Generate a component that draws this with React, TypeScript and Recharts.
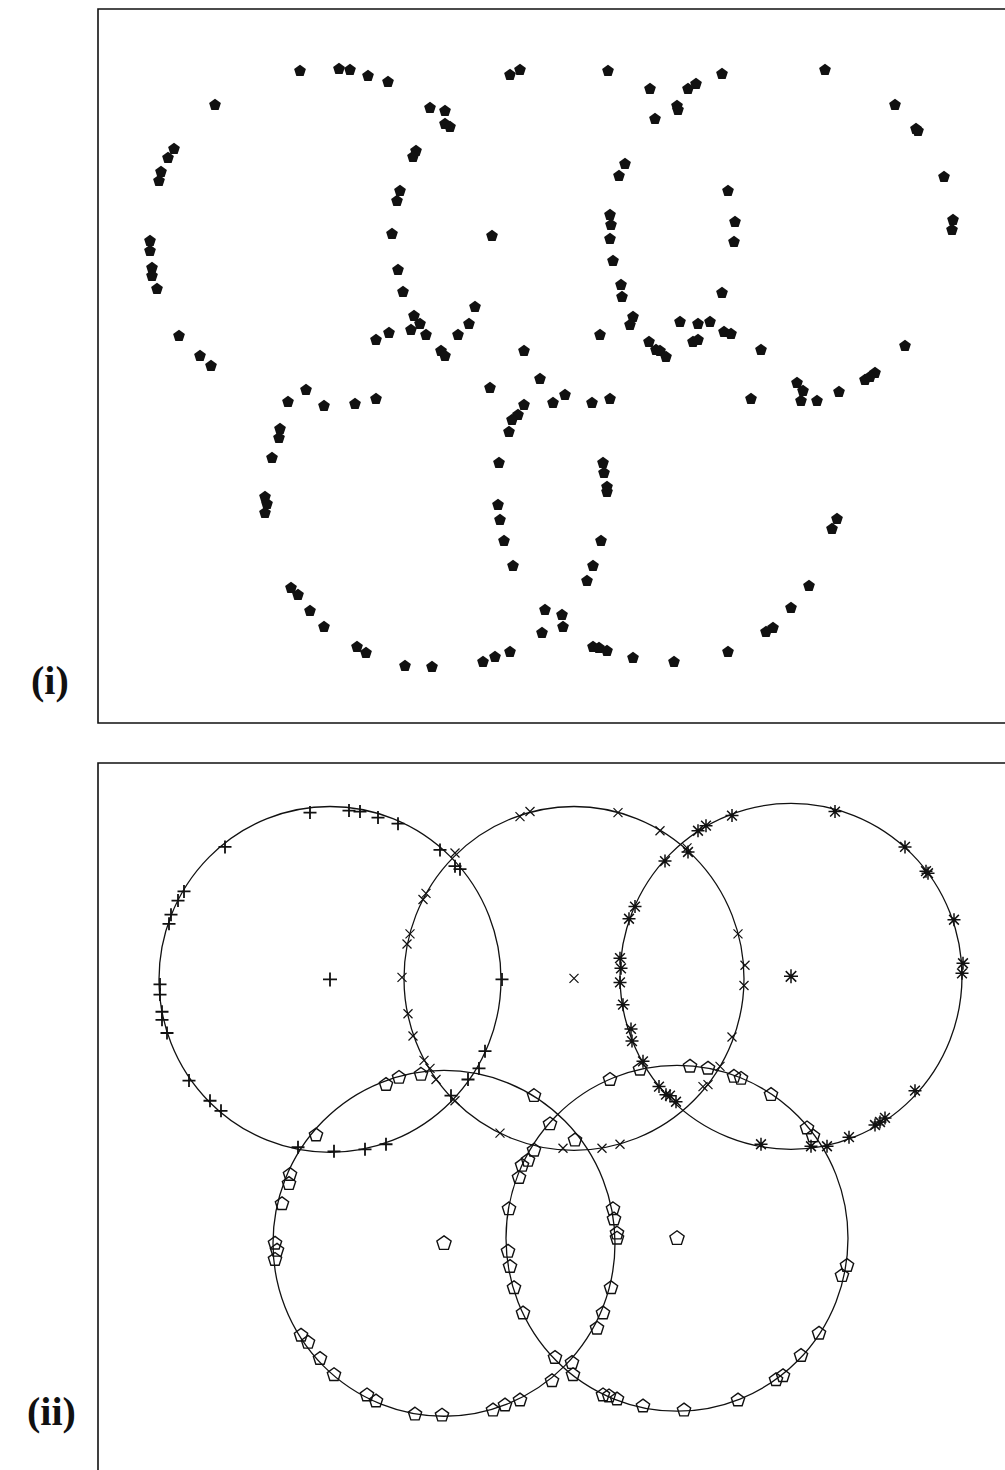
import { ScatterChart, Scatter, XAxis, YAxis, ReferenceArea } from 'recharts';

// Sampled points, grouped by the ring they belong to (x, y in plot units)
const ringA = [
  [213, 659], [252, 661], [263, 660], [281, 654], [301, 648], [128, 625], [343, 622],
  [358, 606], [363, 603], [87, 581], [81, 572], [74, 558], [72, 549], [405, 494],
  [63, 489], [63, 479], [65, 462], [65, 454], [70, 441], [388, 423], [382, 406],
  [371, 395], [354, 379], [92, 394], [113, 374], [124, 364], [201, 328], [237, 324],
  [268, 326], [289, 331],
];
const ringB = [
  [423, 655], [433, 660], [358, 619], [329, 579], [326, 573], [313, 539], [310, 529],
  [305, 496], [311, 460], [316, 438], [327, 414], [333, 406], [339, 395], [358, 374],
  [521, 659], [563, 641], [590, 624], [641, 539], [648, 508], [647, 488], [635, 437],
  [623, 408], [606, 388], [611, 390], [403, 342], [466, 327], [505, 327], [523, 331],
];
const ringC = [
  [601, 641], [609, 646], [635, 656], [591, 620], [568, 611], [738, 660], [808, 625],
  [829, 601], [831, 599], [857, 553], [538, 566], [532, 554], [523, 515], [524, 505],
  [523, 491], [526, 469], [534, 445], [535, 433], [546, 413], [562, 388], [569, 380],
  [573, 379], [579, 373], [818, 384], [866, 510], [865, 500], [664, 331], [714, 329],
  [730, 329], [752, 338], [778, 350], [788, 357], [783, 353],
];
const ringD = [
  [324, 400], [302, 397], [289, 390], [437, 379], [219, 340], [193, 301], [192, 292],
  [185, 272], [178, 233], [180, 226], [178, 217], [204, 142], [211, 135], [223, 119],
  [237, 103], [270, 83], [279, 77], [318, 64], [345, 63], [396, 68], [408, 73],
  [423, 78], [455, 97], [478, 335], [516, 267], [517, 257], [520, 243], [520, 238],
  [514, 189], [506, 164], [500, 149], [475, 115],
];
const ringE = [
  [543, 405], [513, 395], [593, 408], [611, 406], [637, 398], [644, 396], [674, 380],
  [453, 351], [437, 325], [431, 315], [425, 310], [422, 298], [412, 267], [411, 225],
  [413, 210], [417, 189], [426, 164], [458, 120], [710, 347], [716, 339], [750, 211],
  [745, 201], [476, 103], [506, 83], [512, 82], [520, 79], [546, 72], [587, 68],
  [641, 78], [686, 102], [679, 98], [704, 122], [722, 144],
];

// Fitted rings: centres and radii (plot units), order A..E
const centreX = [233, 477, 694, 347, 580];
const centreY = [494, 495, 497, 233, 238];
const radius = [171, 170, 171, 171, 171];

const toPoints = (rows: number[][]) => rows.map(([x, y]) => ({ x, y }));

const allPoints = toPoints([...ringA, ...ringB, ...ringC, ...ringD, ...ringE]);
const rings = centreX.map((x, i) => ({ x, y: centreY[i], r: radius[i] }));
const centre = (i: number) => [{ x: centreX[i], y: centreY[i] }];

// geometry
const CHART_W = 924;
const PLOT_W = 920;
const TOP_X: [number, number] = [11, 931];
const TOP_Y: [number, number] = [7, 721];
const TOP_H = 718;
const BOT_X: [number, number] = [1, 921];
const BOT_Y: [number, number] = [-4, 708];
const BOT_H = 724;
const MARGIN = { top: 2, right: 2, bottom: 2, left: 2 };

const INK = '#111';

function pentagon(cx: number, cy: number, r: number) {
  const pts: string[] = [];
  for (let k = 0; k < 5; k++) {
    const a = ((-90 + k * 72) * Math.PI) / 180;
    pts.push(`${cx + r * Math.cos(a)},${cy + r * Math.sin(a)}`);
  }
  return pts.join(' ');
}

const FilledPentagon = (p: any) =>
  p.cx == null ? <g /> : <polygon points={pentagon(p.cx, p.cy, 6.2)} fill={INK} />;

const openPentagon = (r: number) => (p: any) =>
  p.cx == null ? (
    <g />
  ) : (
    <polygon points={pentagon(p.cx, p.cy, r)} fill="none" stroke={INK} strokeWidth={1.4} />
  );

const plus = (h: number) => (p: any) =>
  p.cx == null ? (
    <g />
  ) : (
    <path
      d={`M${p.cx - h},${p.cy}H${p.cx + h}M${p.cx},${p.cy - h}V${p.cy + h}`}
      stroke={INK}
      strokeWidth={1.8}
    />
  );

const cross = (h: number) => (p: any) =>
  p.cx == null ? (
    <g />
  ) : (
    <path
      d={`M${p.cx - h},${p.cy - h}L${p.cx + h},${p.cy + h}M${p.cx - h},${p.cy + h}L${p.cx + h},${p.cy - h}`}
      stroke={INK}
      strokeWidth={1.2}
    />
  );

const star = (h: number) => (p: any) =>
  p.cx == null ? (
    <g />
  ) : (
    <path
      d={`M${p.cx - h},${p.cy}H${p.cx + h}M${p.cx},${p.cy - h}V${p.cy + h}` +
        `M${p.cx - h * 0.75},${p.cy - h * 0.75}L${p.cx + h * 0.75},${p.cy + h * 0.75}` +
        `M${p.cx - h * 0.75},${p.cy + h * 0.75}L${p.cx + h * 0.75},${p.cy - h * 0.75}`}
      stroke={INK}
      strokeWidth={1.5}
    />
  );

// ring outline; the lower plot's pixels-per-unit are not quite equal on both axes
const sx = PLOT_W / (BOT_X[1] - BOT_X[0]);
const sy = (BOT_H - MARGIN.top - MARGIN.bottom) / (BOT_Y[1] - BOT_Y[0]);
const RingShape = (p: any) =>
  p.cx == null ? (
    <g />
  ) : (
    <ellipse
      cx={p.cx}
      cy={p.cy}
      rx={p.payload.r * sx}
      ry={p.payload.r * sy}
      fill="none"
      stroke={INK}
      strokeWidth={1.3}
    />
  );

const labelStyle = {
  position: 'absolute' as const,
  fontFamily: '"Liberation Serif", "Times New Roman", serif',
  fontWeight: 700,
  fontSize: 40,
  lineHeight: '40px',
  color: INK,
};

export default function App() {
  return (
    <div
      style={{
        position: 'absolute',
        left: 0,
        top: 0,
        width: 1005,
        height: 1470,
        overflow: 'hidden',
        background: '#fff',
      }}
    >
      <div style={{ position: 'absolute', left: 96, top: 7 }}>
        <ScatterChart width={CHART_W} height={TOP_H} margin={MARGIN}>
          <XAxis type="number" dataKey="x" domain={TOP_X} allowDataOverflow hide />
          <YAxis type="number" dataKey="y" domain={TOP_Y} allowDataOverflow hide />
          <ReferenceArea
            x1={TOP_X[0]}
            x2={TOP_X[1]}
            y1={TOP_Y[0]}
            y2={TOP_Y[1]}
            fill="none"
            stroke={INK}
            strokeWidth={1.6}
            ifOverflow="visible"
          />
          <Scatter data={allPoints} shape={FilledPentagon} isAnimationActive={false} />
        </ScatterChart>
      </div>
      <div style={{ ...labelStyle, left: 31, top: 661 }}>(i)</div>

      <div style={{ position: 'absolute', left: 96, top: 761 }}>
        <ScatterChart width={CHART_W} height={BOT_H} margin={MARGIN}>
          <XAxis type="number" dataKey="x" domain={BOT_X} allowDataOverflow hide />
          <YAxis type="number" dataKey="y" domain={BOT_Y} allowDataOverflow hide />
          <ReferenceArea
            x1={BOT_X[0]}
            x2={BOT_X[1]}
            y1={BOT_Y[0]}
            y2={BOT_Y[1]}
            fill="none"
            stroke={INK}
            strokeWidth={1.6}
            ifOverflow="visible"
          />
          <Scatter data={rings} shape={RingShape} isAnimationActive={false} />
          <Scatter data={toPoints(ringA)} shape={plus(6.5)} isAnimationActive={false} />
          <Scatter data={toPoints(ringB)} shape={cross(4.5)} isAnimationActive={false} />
          <Scatter data={toPoints(ringC)} shape={star(6.5)} isAnimationActive={false} />
          <Scatter data={toPoints(ringD)} shape={openPentagon(7)} isAnimationActive={false} />
          <Scatter data={toPoints(ringE)} shape={openPentagon(7)} isAnimationActive={false} />
          <Scatter data={centre(0)} shape={plus(7)} isAnimationActive={false} />
          <Scatter data={centre(1)} shape={cross(4.5)} isAnimationActive={false} />
          <Scatter data={centre(2)} shape={star(7)} isAnimationActive={false} />
          <Scatter data={centre(3)} shape={openPentagon(7.5)} isAnimationActive={false} />
          <Scatter data={centre(4)} shape={openPentagon(7.5)} isAnimationActive={false} />
        </ScatterChart>
      </div>
      <div style={{ ...labelStyle, left: 27, top: 1392 }}>(ii)</div>
    </div>
  );
}
